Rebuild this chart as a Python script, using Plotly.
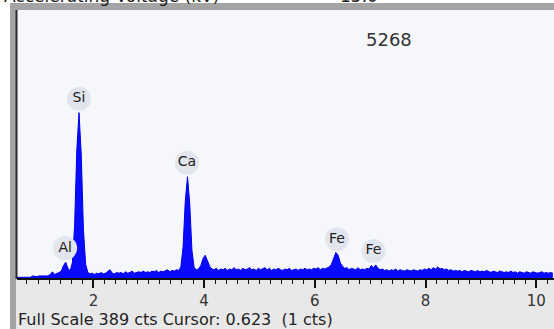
import numpy as np
import plotly.graph_objects as go

# ---- data -------------------------------------------------------------
E_START = 0.62      # keV, first channel
E_STEP = 0.04       # keV per channel
counts = [
    1, 1, 2, 1, 2, 2, 1, 3, 2, 2,
    3, 3, 4, 4, 3, 5, 9, 5, 6, 8,
    10, 18, 23, 14, 10, 22, 75, 185, 240, 180,
    70, 20, 8, 6, 7, 5, 7, 6, 8, 6,
    7, 9, 12, 7, 6, 8, 7, 8, 6, 9,
    7, 8, 10, 7, 8, 9, 8, 10, 8, 9,
    8, 10, 9, 11, 8, 10, 9, 10, 12, 9,
    11, 10, 12, 11, 16, 45, 112, 147, 108, 40,
    15, 12, 13, 18, 28, 33, 25, 17, 13, 12,
    14, 11, 13, 12, 14, 11, 13, 12, 15, 12,
    13, 11, 14, 12, 13, 15, 12, 13, 11, 14,
    12, 13, 15, 12, 14, 11, 13, 12, 14, 12,
    11, 13, 12, 14, 11, 12, 13, 11, 13, 12,
    14, 12, 13, 12, 14, 13, 15, 12, 14, 13,
    15, 16, 20, 28, 37, 33, 22, 17, 14, 15,
    12, 14, 13, 12, 15, 12, 13, 12, 14, 13,
    18, 15, 19, 14, 12, 13, 11, 12, 10, 12,
    11, 13, 10, 12, 11, 10, 12, 11, 10, 12,
    11, 10, 12, 11, 13, 12, 14, 12, 15, 13,
    16, 13, 14, 12, 13, 11, 12, 10, 11, 10,
    11, 9, 11, 10, 9, 11, 10, 9, 11, 9,
    10, 9, 11, 9, 8, 10, 9, 8, 10, 9,
    8, 9, 8, 10, 8, 9, 7, 9, 8, 7,
    9, 8, 7, 9, 8, 7, 8, 9, 7, 8,
    7, 8, 7,
]
energies = E_START + E_STEP * np.arange(len(counts))

peak_names = ["Al", "Si", "Ca", "Fe", "Fe"]
peak_energies = [1.49, 1.74, 3.69, 6.40, 7.06]
peak_counts = [23, 240, 147, 36, 19]

tick_values = [2, 4, 6, 8, 10]
tick_labels = ["2", "4", "6", "8", "10"]

full_scale = 389
spectrum_id = "5268"
footer_text = "Full Scale 389 cts Cursor: 0.623\u00a0 (1 cts)"
header_left = "Accelerating Voltage (kV)"
header_right = "15.0"

# ---- layout geometry (pixels) ----------------------------------------
W, H = 554, 329
PL, PR, PT, PB = 17, 0, 10, 51
PW = W - PL - PR
PH = H - PT - PB
X_MIN, X_MAX = 0.62, 10.32


def px(p):
    return (p - PL) / PW


def py(q):
    return (H - PB - q) / PH


label_offset = 14 * full_scale / PH
label_y = [c + label_offset for c in peak_counts]

fig = go.Figure()

fig.add_trace(go.Scatter(
    x=energies, y=counts, mode="lines",
    line=dict(color="#0000e6", width=1),
    fill="tozeroy", fillcolor="#0a0aff",
    hoverinfo="skip", showlegend=False,
))

fig.add_trace(go.Scatter(
    x=peak_energies, y=label_y, mode="markers+text",
    text=peak_names, textposition="middle center",
    marker=dict(symbol="circle", size=24, color="#e2e5ee", line=dict(width=0)),
    textfont=dict(family="DejaVu Sans", size=14, color="#222222"),
    hoverinfo="skip", showlegend=False, cliponaxis=False,
))

shapes = [
    # bottom grey band
    dict(type="rect", xref="paper", yref="paper", x0=px(16), x1=px(W), y0=py(H), y1=py(279),
         fillcolor="#e8e8e8", line=dict(width=0), layer="below"),
    # left grey strip
    dict(type="rect", xref="paper", yref="paper", x0=px(10), x1=px(16), y0=py(H), y1=py(3),
         fillcolor="#a4a4a4", line=dict(width=0), layer="below"),
    # top grey strip
    dict(type="rect", xref="paper", yref="paper", x0=px(10), x1=px(W), y0=py(10), y1=py(3),
         fillcolor="#a4a4a4", line=dict(width=0), layer="below"),
    # dark left line of plot frame
    dict(type="rect", xref="paper", yref="paper", x0=px(15.5), x1=px(17.5), y0=py(279), y1=py(10),
         fillcolor="#2a2a2a", line=dict(width=0), layer="above"),
]

annotations = [
    dict(text=spectrum_id, xref="paper", yref="paper", x=px(389), y=py(39),
         xanchor="center", yanchor="middle", showarrow=False,
         font=dict(family="DejaVu Sans", size=18, color="#333333")),
    dict(text=footer_text, xref="paper", yref="paper", x=px(16), y=py(319.5),
         xanchor="left", yanchor="middle", showarrow=False,
         font=dict(family="DejaVu Sans", size=16, color="#222222")),
    dict(text=header_left, xref="paper", yref="paper", x=px(2), y=py(8),
         xanchor="left", yanchor="bottom", showarrow=False,
         font=dict(family="DejaVu Sans", size=17, color="#222222")),
    dict(text=header_right, xref="paper", yref="paper", x=px(338), y=py(8),
         xanchor="left", yanchor="bottom", showarrow=False,
         font=dict(family="DejaVu Sans", size=17, color="#222222")),
]

fig.update_layout(
    width=W, height=H,
    margin=dict(l=PL, r=PR, t=PT, b=PB, pad=0),
    paper_bgcolor="#ffffff", plot_bgcolor="#f6f7fb",
    shapes=shapes, annotations=annotations,
    xaxis=dict(
        range=[X_MIN, X_MAX], showgrid=False, zeroline=False,
        showline=True, linecolor="#111111", linewidth=1.5,
        ticks="outside", ticklen=8, tickwidth=1.5, tickcolor="#111111",
        tickvals=tick_values, ticktext=tick_labels,
        tickfont=dict(family="DejaVu Sans", size=15, color="#333333"),
        minor=dict(dtick=0.2, tick0=0, ticks="outside", ticklen=4, tickwidth=1.2, tickcolor="#111111"),
        fixedrange=True,
    ),
    yaxis=dict(range=[0, full_scale], visible=False, showgrid=False, zeroline=False, fixedrange=True),
)

fig.write_html("out.html")
